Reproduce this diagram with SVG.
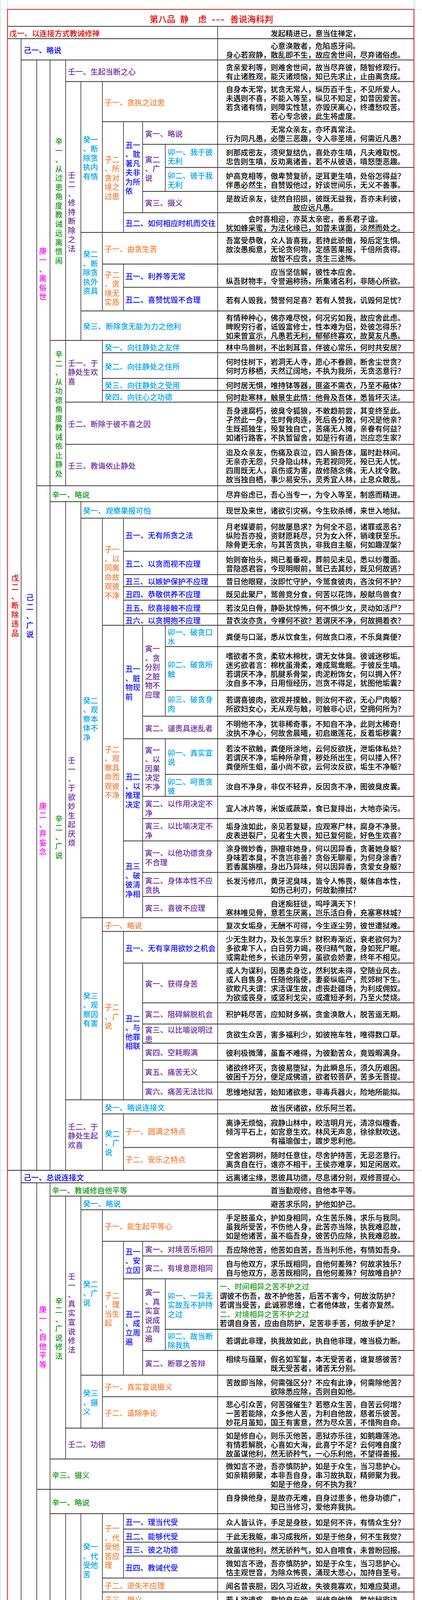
<svg xmlns="http://www.w3.org/2000/svg" width="1080" height="6539" viewBox="0 0 1080 6539">
<style>
text{font-family:"Noto Sans CJK SC","Noto Sans CJK JP",sans-serif;font-weight:500}
.t{font-size:19.1px;fill:#000;text-anchor:middle}
.tl{font-size:19.1px;fill:#000}
.l{font-size:19.3px}
.title{font-size:22px;fill:#e00000}
.wu{fill:#e00000}.ji{fill:#0000ff}.geng{fill:#ff00ff}.xin{fill:#179a17}.ren{fill:#7030a0}.gui{fill:#00a8ec}.zi{fill:#f5843c}.chou{fill:#1010ff}.yin{fill:#7030a0}.mao{fill:#00a8ec}
.g{fill:#1aa31a}.m{fill:#ff00ff}
.h{stroke:#333;stroke-width:2;fill:none}
.v{stroke:#000;stroke-width:1.3;fill:none}
.pg{stroke:#c9d2ea;stroke-width:1.2;fill:none}
</style>
<rect width="1080" height="6539" fill="#fff"/>
<g id="page">
<path class="pg" d="M1 0V6539M1062 0V6539M19.3 0V6539M1059.3 0V6539M0 24H1080M0 2997H1080M0 6527H1080M0 6538H1080"/>
</g>
<g id="connectors">
<path class="v" d="M557 67.4V6513.4M54 98.9V6513.4M94 153.6V2996M94 3028V6472.4M128 153.6V2996M128 3028V6393.7M168 153.6V1243.6M168 1284.3V2996M168 3062V3735.1M168 3874.9V6393.7M207 208.7V871.5M207 1284.3V2815.4M207 3062V3656.1M207 3874.9V6393.7M262 208.7V796.1M262 871.5V1029.4M262 1326.4V2996M262 3097.1V3656.1M262 3874.9V6472.4M316 311.5V595.1M316 676.1V796.1M316 1326.4V2349.3M316 2384.4V2815.4M316 2851.6V2996M316 3177.8V3520.4M316 3874.9V4039.8M316 4258V4533.2M316 4756V6393.7M365 311.5V544.5M365 1600.7V2349.3M365 2465.5V2815.4M365 3177.8V3520.4M365 4756V5180.6M365 5433.9V5655.5M365 5712.3V5835.1M365 5895V6393.7M423 369.4V490.1M423 1600.7V1833.5M423 1891.3V2038.7M423 3273.8V3457.2M423 4756V4964.9M423 5932.6V6393.7"/>
<path class="h" d="M19 67.4H1059M19 98.9H1059M54 153.6H1059M168 208.7H1059M262 311.5H1059M365 369.4H1059M423 428.7H1059M365 490.1H1059M316 544.5H1059M207 595.1H1059M262 676.1H1059M316 735.4H1059M207 796.1H1059M128 871.5H1059M262 903.1H1059M262 968.7H1059M262 999.5H1059M168 1029.4H1059M168 1137.6H1059M94 1243.6H1059M128 1284.3H1059M207 1326.4H1059M316 1411.2H1059M316 1470.9H1059M316 1501.7H1059M316 1536.5H1059M316 1571.2H1059M262 1600.7H1059M423 1655.3H1059M423 1767.5H1059M365 1833.5H1059M316 1891.3H1059M423 1982.6H1059M365 2038.7H1059M365 2095.5H1059M316 2152.7H1059M365 2233.6H1059M365 2295H1059M207 2349.3H1059M262 2384.4H1059M316 2465.5H1059M365 2567.2H1059M365 2621.6H1059M365 2670.7H1059M365 2714.5H1059M365 2770.2H1059M168 2815.4H1059M262 2851.6H1059M316 2937.5H1059M19 2996H1059M54 3028H1059M128 3062H1059M207 3097.1H1059M262 3177.8H1059M365 3215.3H1059M316 3273.8H1059M423 3402.9H1059M365 3457.2H1059M207 3520.4H1059M262 3575.5H1059M168 3656.1H1059M128 3735.1H1059M94 3812.8H1059M128 3874.9H1059M316 3914.5H1059M316 3947.9H1059M316 3983.6H1059M262 4039.8H1059M262 4075.6H1059M207 4110.6H1059M262 4141.5H1059M207 4222.9H1059M262 4258H1059M316 4341.5H1059M316 4370.8H1059M207 4409.4H1059M316 4451.5H1059M316 4490.8H1059M262 4533.2H1059M207 4598.1H1059M262 4660.9H1059M168 4721.6H1059M262 4756H1059M423 4821.6H1059M365 4964.9H1059M365 5075.4H1059M316 5180.6H1059M262 5223.4H1059M316 5279.9H1059M316 5338.5H1059M207 5389.4H1059M316 5433.9H1059M365 5493.1H1059M365 5549.2H1059M316 5655.5H1059M262 5712.3H1059M365 5751.3H1059M316 5835.1H1059M316 5895H1059M365 5932.6H1059M557 6121.3H1059M423 6333.1H1059M94 6393.7H1059M262 6432.9H1059M54 6472.4H1059"/>
<rect x="19.3" y="23.9" width="1040" height="6489.5" fill="none" stroke="#e00000" stroke-width="1.8"/>
</g>
<g id="title">
<text class="title" x="383" y="57">第八品</text>
<text class="title" x="461" y="57">静</text>
<text class="title" x="507" y="57">虑</text>
<text class="title" x="541" y="57" textLength="34" lengthAdjust="spacingAndGlyphs">---</text>
<text class="title" x="589" y="57">善说海科判</text>
</g>
<g id="verticals">
<g id="v-wu2"><text class="l wu" x="29" y="1486.6"><tspan x="29">戊</tspan><tspan x="29" dy="23.5">二</tspan><tspan x="29" dy="23.5">、</tspan><tspan x="29" dy="23.5">断</tspan><tspan x="29" dy="23.5">除</tspan><tspan x="29" dy="23.5">违</tspan><tspan x="29" dy="23.5">品</tspan></text></g>
<g id="v-wu3"><text class="l wu" x="29" y="4693.8"><tspan x="29">戊</tspan><tspan x="29" dy="23.5">三</tspan><tspan x="29" dy="23.5">、</tspan><tspan x="29" dy="23.5">谨</tspan><tspan x="29" dy="23.5">持</tspan><tspan x="29" dy="23.5">对</tspan><tspan x="29" dy="23.5">治</tspan></text></g>
<g id="v-ji2a"><text class="l ji" x="67" y="1537.4"><tspan x="67">己</tspan><tspan x="67" dy="23.5">二</tspan><tspan x="67" dy="23.5">、</tspan><tspan x="67" dy="23.5">广</tspan><tspan x="67" dy="23.5">说</tspan></text></g>
<g id="v-ji2b"><text class="l ji" x="67" y="4665.8"><tspan x="67">己</tspan><tspan x="67" dy="23.5">二</tspan><tspan x="67" dy="23.5">、</tspan><tspan x="67" dy="23.5">修</tspan><tspan x="67" dy="23.5">世</tspan><tspan x="67" dy="23.5">俗</tspan><tspan x="67" dy="23.5">菩</tspan><tspan x="67" dy="23.5">提</tspan><tspan x="67" dy="23.5">心</tspan></text></g>
<g id="v-geng1a"><text class="l geng" x="100" y="649.5"><tspan x="100">庚</tspan><tspan x="100" dy="23.5">一</tspan><tspan x="100" dy="23.5">、</tspan><tspan x="100" dy="23.5">离</tspan><tspan x="100" dy="23.5">俗</tspan><tspan x="100" dy="23.5">世</tspan></text></g>
<g id="v-geng2a"><text class="l geng" x="100" y="2070.7"><tspan x="100">庚</tspan><tspan x="100" dy="23.5">二</tspan><tspan x="100" dy="23.5">、</tspan><tspan x="100" dy="23.5">弃</tspan><tspan x="100" dy="23.5">妄</tspan><tspan x="100" dy="23.5">念</tspan></text></g>
<g id="v-geng1b"><text class="l geng" x="100" y="3359.5"><tspan x="100">庚</tspan><tspan x="100" dy="23.5">一</tspan><tspan x="100" dy="23.5">、</tspan><tspan x="100" dy="23.5">自</tspan><tspan x="100" dy="23.5">他</tspan><tspan x="100" dy="23.5">平</tspan><tspan x="100" dy="23.5">等</tspan></text></g>
<g id="v-geng2b"><text class="l geng" x="100" y="5042.4"><tspan x="100">庚</tspan><tspan x="100" dy="23.5">二</tspan><tspan x="100" dy="23.5">、</tspan><tspan x="100" dy="23.5">自</tspan><tspan x="100" dy="23.5">他</tspan><tspan x="100" dy="23.5">相</tspan><tspan x="100" dy="23.5">换</tspan></text></g>
<g id="v-xin1a"><text class="l xin" x="141" y="369.4"><tspan x="141">辛</tspan><tspan x="141" dy="23.5">一</tspan><tspan x="141" dy="23.5">、</tspan><tspan x="141" dy="23.5">从</tspan><tspan x="141" dy="23.5">过</tspan><tspan x="141" dy="23.5">患</tspan><tspan x="141" dy="23.5">角</tspan><tspan x="141" dy="23.5">度</tspan><tspan x="141" dy="23.5">教</tspan><tspan x="141" dy="23.5">诫</tspan><tspan x="141" dy="23.5">远</tspan><tspan x="141" dy="23.5">离</tspan><tspan x="141" dy="23.5">愦</tspan><tspan x="141" dy="23.5">闹</tspan></text></g>
<g id="v-xin2a"><text class="l xin" x="141" y="914.4"><tspan x="141">辛</tspan><tspan x="141" dy="23.5">二</tspan><tspan x="141" dy="23.5">、</tspan><tspan x="141" dy="23.5">从</tspan><tspan x="141" dy="23.5">功</tspan><tspan x="141" dy="23.5">德</tspan><tspan x="141" dy="23.5">角</tspan><tspan x="141" dy="23.5">度</tspan><tspan x="141" dy="23.5">教</tspan><tspan x="141" dy="23.5">诫</tspan><tspan x="141" dy="23.5">依</tspan><tspan x="141" dy="23.5">止</tspan><tspan x="141" dy="23.5">静</tspan><tspan x="141" dy="23.5">处</tspan></text></g>
<g id="v-xin2b"><text class="l xin" x="141" y="2102.8"><tspan x="141">辛</tspan><tspan x="141" dy="23.5">二</tspan><tspan x="141" dy="23.5">、</tspan><tspan x="141" dy="23.5">广</tspan><tspan x="141" dy="23.5">说</tspan></text></g>
<g id="v-xin2c"><text class="l xin" x="141" y="3337.7"><tspan x="141">辛</tspan><tspan x="141" dy="23.5">二</tspan><tspan x="141" dy="23.5">、</tspan><tspan x="141" dy="23.5">广</tspan><tspan x="141" dy="23.5">说</tspan><tspan x="141" dy="23.5">修</tspan><tspan x="141" dy="23.5">法</tspan></text></g>
<g id="v-xin2d"><text class="l xin" x="141" y="5096.9"><tspan x="141">辛</tspan><tspan x="141" dy="23.5">二</tspan><tspan x="141" dy="23.5">、</tspan><tspan x="141" dy="23.5">广</tspan><tspan x="141" dy="23.5">说</tspan></text></g>
<g id="v-ren2a"><text class="l ren" x="173.7" y="455.7"><tspan x="173.7">壬</tspan><tspan x="173.7" dy="23.5">二</tspan><tspan x="173.7" dy="23.5">、</tspan><tspan x="173.7" dy="23.5">修</tspan><tspan x="173.7" dy="23.5">持</tspan><tspan x="173.7" dy="23.5">断</tspan><tspan x="173.7" dy="23.5">除</tspan><tspan x="173.7" dy="23.5">之</tspan><tspan x="173.7" dy="23.5">法</tspan></text></g>
<g id="v-ren1b"><text class="l ren" x="173.7" y="1953.7"><tspan x="173.7">壬</tspan><tspan x="173.7" dy="23.5">一</tspan><tspan x="173.7" dy="23.5">、</tspan><tspan x="173.7" dy="23.5">于</tspan><tspan x="173.7" dy="23.5">欲</tspan><tspan x="173.7" dy="23.5">妙</tspan><tspan x="173.7" dy="23.5">生</tspan><tspan x="173.7" dy="23.5">起</tspan><tspan x="173.7" dy="23.5">厌</tspan><tspan x="173.7" dy="23.5">烦</tspan></text></g>
<g id="v-ren1c"><text class="l ren" x="173.7" y="3274.7"><tspan x="173.7">壬</tspan><tspan x="173.7" dy="23.5">一</tspan><tspan x="173.7" dy="23.5">、</tspan><tspan x="173.7" dy="23.5">真</tspan><tspan x="173.7" dy="23.5">实</tspan><tspan x="173.7" dy="23.5">宣</tspan><tspan x="173.7" dy="23.5">说</tspan><tspan x="173.7" dy="23.5">修</tspan><tspan x="173.7" dy="23.5">法</tspan></text></g>
<g id="v-ren1d"><text class="l ren" x="173.7" y="4237.4"><tspan x="173.7">壬</tspan><tspan x="173.7" dy="23.5">一</tspan><tspan x="173.7" dy="23.5">、</tspan><tspan x="173.7" dy="23.5">宣</tspan><tspan x="173.7" dy="23.5">说</tspan><tspan x="173.7" dy="23.5">法</tspan><tspan x="173.7" dy="23.5">相</tspan></text></g>
<g id="v-ren2d"><text class="l ren" x="173.7" y="5496.8"><tspan x="173.7">壬</tspan><tspan x="173.7" dy="23.5">二</tspan><tspan x="173.7" dy="23.5">、</tspan><tspan x="173.7" dy="23.5">宣</tspan><tspan x="173.7" dy="23.5">说</tspan><tspan x="173.7" dy="23.5">事</tspan><tspan x="173.7" dy="23.5">宜</tspan></text></g>
<g id="v-ren1e"><text class="l ren" x="173.7" y="936.6"><tspan x="173.7">壬一、于</tspan><tspan x="173.7" dy="23.5">静处生欢</tspan><tspan x="173.7" dy="23.5">喜</tspan></text></g>
<g id="v-ren2e"><text class="l ren" x="173.7" y="2891.8"><tspan x="173.7">壬二、于</tspan><tspan x="173.7" dy="23.5">静处生起</tspan><tspan x="173.7" dy="23.5">欢喜</tspan></text></g>
<g id="v-gui1a"><text class="l gui" x="212.3" y="364.5"><tspan x="212.3">癸一</tspan><tspan x="212.3" dy="23.5">、断</tspan><tspan x="212.3" dy="23.5">除贪</tspan><tspan x="212.3" dy="23.5">执内</tspan><tspan x="212.3" dy="23.5">有情</tspan></text></g>
<g id="v-gui2a"><text class="l gui" x="212.3" y="658.2"><tspan x="212.3">癸二</tspan><tspan x="212.3" dy="23.5">、断</tspan><tspan x="212.3" dy="23.5">除贪</tspan><tspan x="212.3" dy="23.5">执外</tspan><tspan x="212.3" dy="23.5">资具</tspan></text></g>
<g id="v-gui2b"><text class="l gui" x="212.3" y="1800.5"><tspan x="212.3">癸二</tspan><tspan x="212.3" dy="23.5">、观</tspan><tspan x="212.3" dy="23.5">察本</tspan><tspan x="212.3" dy="23.5">体不</tspan><tspan x="212.3" dy="23.5">净</tspan></text></g>
<g id="v-gui3b"><text class="l gui" x="212.3" y="2556.7"><tspan x="212.3">癸三</tspan><tspan x="212.3" dy="23.5">、观</tspan><tspan x="212.3" dy="23.5">察因</tspan><tspan x="212.3" dy="23.5">有害</tspan></text></g>
<g id="v-gui2c"><text class="l gui" x="212.3" y="3294.9"><tspan x="212.3">癸二</tspan><tspan x="212.3" dy="23.5">、广</tspan><tspan x="212.3" dy="23.5">说</tspan></text></g>
<g id="v-gui3c"><text class="l gui" x="212.3" y="3574.4"><tspan x="212.3">癸三</tspan><tspan x="212.3" dy="23.5">、摄</tspan><tspan x="212.3" dy="23.5">义</tspan></text></g>
<g id="v-gui1d"><text class="l gui" x="212.3" y="3967.1"><tspan x="212.3">癸一</tspan><tspan x="212.3" dy="23.5">、代</tspan><tspan x="212.3" dy="23.5">受他</tspan><tspan x="212.3" dy="23.5">苦</tspan></text></g>
<g id="v-gui2d"><text class="l gui" x="212.3" y="4141.1"><tspan x="212.3">癸二</tspan><tspan x="212.3" dy="23.5">、舍</tspan><tspan x="212.3" dy="23.5">弃自</tspan><tspan x="212.3" dy="23.5">己</tspan></text></g>
<g id="v-gui3d"><text class="l gui" x="212.3" y="4278.8"><tspan x="212.3">癸三</tspan><tspan x="212.3" dy="23.5">、自</tspan><tspan x="212.3" dy="23.5">他为</tspan><tspan x="212.3" dy="23.5">主之</tspan><tspan x="212.3" dy="23.5">功过</tspan></text></g>
<g id="v-gui4d"><text class="l gui" x="212.3" y="4454.6"><tspan x="212.3">癸四</tspan><tspan x="212.3" dy="23.5">、自</tspan><tspan x="212.3" dy="23.5">他不</tspan><tspan x="212.3" dy="23.5">相换</tspan><tspan x="212.3" dy="23.5">之过</tspan><tspan x="212.3" dy="23.5">患</tspan></text></g>
<g id="v-gui5d"><text class="l gui" x="212.3" y="4646"><tspan x="212.3">癸五</tspan><tspan x="212.3" dy="23.5">、摄</tspan><tspan x="212.3" dy="23.5">义</tspan></text></g>
<g id="v-gui1e"><text class="l gui" x="212.3" y="5041.6"><tspan x="212.3">癸一</tspan><tspan x="212.3" dy="23.5">、意</tspan><tspan x="212.3" dy="23.5">乐</tspan></text></g>
<g id="v-gui2e"><text class="l gui" x="212.3" y="5877.7"><tspan x="212.3">癸二</tspan><tspan x="212.3" dy="23.5">、行</tspan><tspan x="212.3" dy="23.5">为</tspan></text></g>
<g id="v-gui2f"><text class="l gui" x="268" y="2909.9"><tspan x="268">癸二</tspan><tspan x="268" dy="23.5">、广</tspan><tspan x="268" dy="23.5">说</tspan></text></g>
<g id="v-zi2a"><text class="l zi" x="267.4" y="415.9"><tspan x="267.4">子二</tspan><tspan x="267.4" dy="23.5">、所</tspan><tspan x="267.4" dy="23.5">贪对</tspan><tspan x="267.4" dy="23.5">境之</tspan><tspan x="267.4" dy="23.5">过患</tspan></text></g>
<g id="v-zi2b"><text class="l zi" x="267.4" y="710.5"><tspan x="267.4">子二</tspan><tspan x="267.4" dy="23.5">、贪</tspan><tspan x="267.4" dy="23.5">境无</tspan><tspan x="267.4" dy="23.5">实质</tspan></text></g>
<g id="v-zi1c"><text class="l zi" x="267.4" y="1414.4"><tspan x="267.4">子一</tspan><tspan x="267.4" dy="23.5">、以</tspan><tspan x="267.4" dy="23.5">同离</tspan><tspan x="267.4" dy="23.5">命故</tspan><tspan x="267.4" dy="23.5">观彼</tspan><tspan x="267.4" dy="23.5">不净</tspan></text></g>
<g id="v-zi2c"><text class="l zi" x="267.4" y="1925.9"><tspan x="267.4">子二</tspan><tspan x="267.4" dy="23.5">、观</tspan><tspan x="267.4" dy="23.5">察具</tspan><tspan x="267.4" dy="23.5">命而</tspan><tspan x="267.4" dy="23.5">观彼</tspan><tspan x="267.4" dy="23.5">不净</tspan></text></g>
<g id="v-zi2g"><text class="l zi" x="267.4" y="2586"><tspan x="267.4">子二</tspan><tspan x="267.4" dy="23.5">、广</tspan><tspan x="267.4" dy="23.5">说</tspan></text></g>
<g id="v-zi2i"><text class="l zi" x="267.4" y="3323.5"><tspan x="267.4">子二</tspan><tspan x="267.4" dy="23.5">、理</tspan><tspan x="267.4" dy="23.5">当生</tspan><tspan x="267.4" dy="23.5">起</tspan></text></g>
<g id="v-zi1k"><text class="l zi" x="267.4" y="3920"><tspan x="267.4">子一</tspan><tspan x="267.4" dy="23.5">、代</tspan><tspan x="267.4" dy="23.5">受他</tspan><tspan x="267.4" dy="23.5">苦应</tspan><tspan x="267.4" dy="23.5">理</tspan></text></g>
<g id="v-zi2m"><text class="l zi" x="267.4" y="4308.1"><tspan x="267.4">子二</tspan><tspan x="267.4" dy="23.5">、果</tspan><tspan x="267.4" dy="23.5">之差</tspan><tspan x="267.4" dy="23.5">别</tspan></text></g>
<g id="v-zi1n"><text class="l zi" x="267.4" y="4445.7"><tspan x="267.4">子一</tspan><tspan x="267.4" dy="23.5">、真</tspan><tspan x="267.4" dy="23.5">实宣</tspan><tspan x="267.4" dy="23.5">说</tspan></text></g>
<g id="v-zi2p"><text class="l zi" x="267.4" y="4954.4"><tspan x="267.4">子二</tspan><tspan x="267.4" dy="23.5">、广</tspan><tspan x="267.4" dy="23.5">说</tspan></text></g>
<g id="v-zi3p"><text class="l zi" x="267.4" y="5271.1"><tspan x="267.4">子三</tspan><tspan x="267.4" dy="23.5">、摄</tspan><tspan x="267.4" dy="23.5">义</tspan></text></g>
<g id="v-zi1r"><text class="l zi" x="267.4" y="5525.2"><tspan x="267.4">子一</tspan><tspan x="267.4" dy="23.5">、行</tspan><tspan x="267.4" dy="23.5">为修</tspan><tspan x="267.4" dy="23.5">法</tspan></text></g>
<g id="v-zi2s"><text class="l zi" x="267.4" y="6015.6"><tspan x="267.4">子二</tspan><tspan x="267.4" dy="23.5">、以</tspan><tspan x="267.4" dy="23.5">行为</tspan><tspan x="267.4" dy="23.5">主宰</tspan><tspan x="267.4" dy="23.5">心</tspan></text></g>
<g id="v-chou1a"><text class="l chou" x="320.5" y="378.9"><tspan x="320.5">丑一</tspan><tspan x="320.5" dy="23.5">、耽</tspan><tspan x="320.5" dy="23.5">著凡</tspan><tspan x="320.5" dy="23.5">夫非</tspan><tspan x="320.5" dy="23.5">为所</tspan><tspan x="320.5" dy="23.5">依</tspan></text></g>
<g id="v-chou1d"><text class="l chou" x="320.5" y="1720.4"><tspan x="320.5">丑一</tspan><tspan x="320.5" dy="23.5">、脏</tspan><tspan x="320.5" dy="23.5">物现</tspan><tspan x="320.5" dy="23.5">前</tspan></text></g>
<g id="v-chou2e"><text class="l chou" x="320.5" y="1996.4"><tspan x="320.5">丑二</tspan><tspan x="320.5" dy="23.5">、以</tspan><tspan x="320.5" dy="23.5">推理</tspan><tspan x="320.5" dy="23.5">决定</tspan></text></g>
<g id="v-chou3f"><text class="l chou" x="320.5" y="2225.4"><tspan x="320.5">丑三</tspan><tspan x="320.5" dy="23.5">、破</tspan><tspan x="320.5" dy="23.5">彼清</tspan><tspan x="320.5" dy="23.5">净相</tspan></text></g>
<g id="v-chou2g"><text class="l chou" x="320.5" y="2614.8"><tspan x="320.5">丑二</tspan><tspan x="320.5" dy="23.5">、与</tspan><tspan x="320.5" dy="23.5">他罪</tspan><tspan x="320.5" dy="23.5">相联</tspan></text></g>
<g id="v-chou1i"><text class="l chou" x="320.5" y="3211.9"><tspan x="320.5">丑一</tspan><tspan x="320.5" dy="23.5">、安</tspan><tspan x="320.5" dy="23.5">立因</tspan></text></g>
<g id="v-chou2i"><text class="l chou" x="320.5" y="3371.5"><tspan x="320.5">丑二</tspan><tspan x="320.5" dy="23.5">、成</tspan><tspan x="320.5" dy="23.5">立周</tspan><tspan x="320.5" dy="23.5">遍</tspan></text></g>
<g id="v-chou1p"><text class="l chou" x="320.5" y="4942.7"><tspan x="320.5">丑一</tspan><tspan x="320.5" dy="23.5">、真</tspan><tspan x="320.5" dy="23.5">实修</tspan><tspan x="320.5" dy="23.5">法</tspan></text></g>
<g id="v-chou2r"><text class="l chou" x="320.5" y="5507.3"><tspan x="320.5">丑二</tspan><tspan x="320.5" dy="23.5">、断</tspan><tspan x="320.5" dy="23.5">除珍</tspan><tspan x="320.5" dy="23.5">爱自</tspan><tspan x="320.5" dy="23.5">己</tspan></text></g>
<g id="v-chou1s"><text class="l chou" x="320.5" y="5748.1"><tspan x="320.5">丑一</tspan><tspan x="320.5" dy="23.5">、以</tspan><tspan x="320.5" dy="23.5">对治</tspan><tspan x="320.5" dy="23.5">主宰</tspan></text></g>
<g id="v-chou3t"><text class="l chou" x="320.5" y="6107"><tspan x="320.5">丑三</tspan><tspan x="320.5" dy="23.5">、精</tspan><tspan x="320.5" dy="23.5">通对</tspan><tspan x="320.5" dy="23.5">治方</tspan><tspan x="320.5" dy="23.5">便</tspan></text></g>
<g id="v-yin2a"><text class="l yin" x="371" y="415.9"><tspan x="371">寅二</tspan><tspan x="371" dy="23.5">、广</tspan><tspan x="371" dy="23.5">说</tspan></text></g>
<g id="v-yin1d"><text class="l yin" x="371" y="1668"><tspan x="371">寅一</tspan><tspan x="371" dy="23.5">、贪</tspan><tspan x="371" dy="23.5">分别</tspan><tspan x="371" dy="23.5">之脏</tspan><tspan x="371" dy="23.5">物不</tspan><tspan x="371" dy="23.5">应理</tspan></text></g>
<g id="v-yin1e"><text class="l yin" x="371" y="1927.6"><tspan x="371">寅一</tspan><tspan x="371" dy="23.5">、以</tspan><tspan x="371" dy="23.5">因果</tspan><tspan x="371" dy="23.5">决定</tspan><tspan x="371" dy="23.5">不净</tspan></text></g>
<g id="v-yin1i"><text class="l yin" x="371" y="3316.4"><tspan x="371">寅一</tspan><tspan x="371" dy="23.5">、真</tspan><tspan x="371" dy="23.5">实宣</tspan><tspan x="371" dy="23.5">说成</tspan><tspan x="371" dy="23.5">立周</tspan><tspan x="371" dy="23.5">遍</tspan></text></g>
<g id="v-yin1p"><text class="l yin" x="371" y="4846.6"><tspan x="371">寅一</tspan><tspan x="371" dy="23.5">、修</tspan><tspan x="371" dy="23.5">嫉妒</tspan></text></g>
<g id="v-yin2t"><text class="l yin" x="371" y="6149.3"><tspan x="371">寅二</tspan><tspan x="371" dy="23.5">、广</tspan><tspan x="371" dy="23.5">说</tspan></text></g>
</g>
<g id="nodes">
<g id="n01"><text class="l wu" x="24" y="92.8">戊一、以连接方式教诫修禅</text><text class="t" x="807" y="93.2">发起精进已，意当住禅定，</text></g>
<g id="n02"><text class="l ji" x="60.6" y="135.9">己一、略说</text><text class="t" y="124.8"><tspan x="807">心意涣散者，危陷惑牙间。</tspan><tspan x="807" dy="23">身心若寂静，散乱即不生，故应舍世间，尽弃诸俗虑。</tspan></text></g>
<g id="n03"><text class="l ren" x="173.7" y="190.8">壬一、生起当断之心</text><text class="t" y="179.7"><tspan x="807">贪亲爱利等，则难舍世间，故当尽弃彼，随智修观行。</tspan><tspan x="807" dy="23">有止诸胜观，能灭诸烦恼，知已先求止，止由离贪成。</tspan></text></g>
<g id="n04"><text class="l zi" x="267.4" y="269.7">子一、贪执之过患</text><text class="t" y="235.6"><tspan x="807">自身本无常，犹贪无常人，纵历百千生，不见所爱人。</tspan><tspan x="807" dy="23">未遇则不喜，不能入等至，纵见不知足，如昔因爱苦。</tspan><tspan x="807" dy="23">若贪诸有情，则障实性慧，亦毁厌离心，终遭愁叹苦。</tspan><tspan x="807" dy="23">若心专念彼，此生将虚度。</tspan></text></g>
<g id="n05"><text class="l yin" x="371" y="350.1">寅一、略说</text><text class="t" y="339"><tspan x="807">无常众亲友，亦坏真常法。</tspan><tspan x="807" dy="23">行为同凡愚，必堕三恶趣，令入非圣境，何需近凡愚？</tspan></text></g>
<g id="n06"><text class="l mao" y="396.9"><tspan x="428.7">卯一、我于彼</tspan><tspan x="428.7" dy="23.5">无利</tspan></text><text class="t" y="397.6"><tspan x="807">刹那成密友，须臾复结仇，喜处亦生嗔，凡夫难取悦。</tspan><tspan x="807" dy="23">忠告则生嗔，反劝离诸善，若不从彼语，嗔怒堕恶趣。</tspan></text></g>
<g id="n07"><text class="l mao" y="457.3"><tspan x="428.7">卯二、彼于我</tspan><tspan x="428.7" dy="23.5">无利</tspan></text><text class="t" y="457.9"><tspan x="807">妒高竞相等，傲卑赞复骄，逆耳更生嗔，处俗怎得益？</tspan><tspan x="807" dy="23">伴愚必然生，自赞毁他过，好谈世间乐，无义不善事。</tspan></text></g>
<g id="n08"><text class="l yin" x="371" y="526.9">寅三、摄义</text><text class="t" y="515.8"><tspan x="807">是故近亲友，徒然自招损，彼既无益我，吾亦未利彼，</tspan><tspan x="807" dy="23">故应远凡愚。</tspan></text></g>
<g id="n09"><text class="l chou" x="320.5" y="579.4">丑二、如何相应时机而交往</text><text class="t" y="568.3"><tspan x="807">会时喜相迎，亦莫太亲密，善系君子谊。</tspan><tspan x="807" dy="23">犹如蜂采蜜，为法化缘已，如昔未谋面，淡然而处之。</tspan></text></g>
<g id="n10"><text class="l zi" x="267.4" y="645.2">子一、由贪生苦</text><text class="t" y="622.6"><tspan x="807">吾富受恭敬，众人皆喜我，若持此骄傲，殁后定生惧。</tspan><tspan x="807" dy="23">故汝愚痴意，无论贪何物，定感苦果报，千倍所贪得。</tspan><tspan x="807" dy="23">故智不应贪，贪生三途怖。</tspan></text></g>
<g id="n11"><text class="l chou" x="320.5" y="715.4">丑一、利养等无常</text><text class="t" y="704.3"><tspan x="807">应当坚信解，彼性本应舍。</tspan><tspan x="807" dy="23">纵吾财物丰，令誉遍称扬，所集诸名利，非随心所欲。</tspan></text></g>
<g id="n12"><text class="l chou" x="320.5" y="775.4">丑二、喜赞忧毁不合理</text><text class="t" x="807" y="775.8">若有人毁我，赞誉何足喜？若有人赞我，讥毁何足忧？</text></g>
<g id="n13"><text class="l gui" x="212.3" y="843.4">癸三、断除贪无能为力之他利</text><text class="t" y="820.8"><tspan x="807">有情种种心，佛亦难尽悦，何况劣如我，故应舍此虑。</tspan><tspan x="807" dy="23">睥睨穷行者，诋毁富修士，性本难为侣，处彼怎得乐？</tspan><tspan x="807" dy="23">如来曾宣示，凡愚若无利，郁郁终寡欢，故莫友凡愚。</tspan></text></g>
<g id="n14"><text class="l gui" x="267.4" y="896.9">癸一、向往静处之友伴</text><text class="t" x="807" y="897.3">林中鸟兽树，不出刺耳音，伴彼心常乐，何时共安居？</text></g>
<g id="n15"><text class="l gui" x="267.4" y="945.5">癸二、向往静处之住所</text><text class="t" y="934.4"><tspan x="807">何时住树下，岩洞无人寺，愿心不眷顾，断舍尘世贪？</tspan><tspan x="807" dy="23">何时方移栖，天然辽阔地，不执为我所，无贪恣意行？</tspan></text></g>
<g id="n16"><text class="l gui" x="267.4" y="993.7">癸三、向往静处之受用</text><text class="t" x="807" y="994.1">何时居无惧，唯持钵等器，匪盗不需衣，乃至不蔽体？</text></g>
<g id="n17"><text class="l gui" x="267.4" y="1024.1">癸四、向往心之功德</text><text class="t" x="807" y="1024.5">何时赴寒林，触景生此情：他骨及吾体，悉皆坏灭法。</text></g>
<g id="n18"><text class="l ren" x="173.7" y="1093.1">壬二、断除于彼不喜之因</text><text class="t" y="1059"><tspan x="807">吾身速腐朽，彼臭令狐狼，不敢趋前尝，其变终至此。</tspan><tspan x="807" dy="23">孑然此一身，生时骨肉连，死后各分散，何况是他亲？</tspan><tspan x="807" dy="23">生既孤独生，殁复独自亡，苦痛无人摊，亲眷有何益？</tspan><tspan x="807" dy="23">如诸行路客，不执暂留舍，如是行有道，岂应恋生家？</tspan></text></g>
<g id="n19"><text class="l ren" x="173.7" y="1200.2">壬三、教诲依止静处</text><text class="t" y="1166.1"><tspan x="807">迨及众亲友，伤痛及哀泣，四人掮吾体，届时赴林间。</tspan><tspan x="807" dy="23">无亲亦无怨，只身隐山林，先若视同死，殁已无人忧。</tspan><tspan x="807" dy="23">四周既无人，哀伤或为害，故修随念佛，无人扰令散。</tspan><tspan x="807" dy="23">故当独自栖，事少易安乐，灵秀宜人林，止息众散乱。</tspan></text></g>
<g id="n20"><text class="l xin" x="133" y="1273.6">辛一、略说</text><text class="t" x="807" y="1274">尽弃俗虑已，吾心当专一，为令入等至，制惑而精进。</text></g>
<g id="n21"><text class="l gui" x="212.3" y="1315">癸一、观察果报可怕</text><text class="t" x="807" y="1315.4">现世及来世，诸欲引灾祸，今生砍杀缚，来世入地狱。</text></g>
<g id="n22"><text class="l chou" x="320.5" y="1378.4">丑一、无有所贪之法</text><text class="t" y="1355.8"><tspan x="807">月老媒婆前，何故屡恳求？为何全不忌，诸罪或恶名？</tspan><tspan x="807" dy="23">纵险吾亦投，资财愿耗尽，只为女入怀，销魂获至乐。</tspan><tspan x="807" dy="23">除骨更无余，与其苦贪执，非我自主躯，何如趣涅槃？</tspan></text></g>
<g id="n23"><text class="l chou" x="320.5" y="1450.7">丑二、以贪而视不应理</text><text class="t" y="1439.6"><tspan x="807">始则奋抬头，揭已羞垂视，葬前见未见，悉以纱覆面。</tspan><tspan x="807" dy="23">昔隐惑君容，今现明眼前，鹫已去其纱，既见何故逃？</tspan></text></g>
<g id="n24"><text class="l chou" x="320.5" y="1495.9">丑三、以嫉妒保护不应理</text><text class="t" x="807" y="1496.3">昔日他眼窥，汝即忙守护，今鹫食彼肉，吝汝何不护？</text></g>
<g id="n25"><text class="l chou" x="320.5" y="1528.7">丑四、恭敬供养不应理</text><text class="t" x="807" y="1529.1">既见此聚尸，鹫兽竞分食，何苦以花饰，殷献鸟兽食？</text></g>
<g id="n26"><text class="l chou" x="320.5" y="1563.5">丑五、欣喜接触不应理</text><text class="t" x="807" y="1563.9">若汝见白骨，静卧犹惊怖，何不惧少女，灵动如活尸？</text></g>
<g id="n27"><text class="l chou" x="320.5" y="1595.6">丑六、以贪拥抱不应理</text><text class="t" x="807" y="1596">昔衣汝亦贪，今裸何不欲？若谓厌不净，何故拥着衣？</text></g>
<g id="n28"><text class="l mao" y="1625.9"><tspan x="428.7">卯一、破贪口</tspan><tspan x="428.7" dy="23.5">水</tspan></text><text class="t" x="807" y="1638">粪便与口涎，悉从饮食生，何故贪口液，不乐臭粪便？</text></g>
<g id="n29"><text class="l mao" y="1709.3"><tspan x="428.7">卯二、破贪所</tspan><tspan x="428.7" dy="23.5">触</tspan></text><text class="t" y="1686.9"><tspan x="807">嗜欲者不贪，柔软木棉枕，谓无女体臭。彼诚迷秽垢。</tspan><tspan x="807" dy="23">迷劣欲者言：棉枕虽滑柔，难成鸳鸯眠。于彼反生嗔。</tspan><tspan x="807" dy="23">若谓厌不净，肌腱系骨架，肉泥粉饰女，何以拥入怀？</tspan><tspan x="807" dy="23">汝自多不净，日用恒经历，岂贪不得足，犹图他垢囊？</tspan></text></g>
<g id="n30"><text class="l mao" y="1798.4"><tspan x="428.7">卯三、破贪身</tspan><tspan x="428.7" dy="23.5">肉</tspan></text><text class="t" y="1799"><tspan x="807">若谓喜彼肉，欲观并摸触，则汝何不欲，无心尸肉躯？</tspan><tspan x="807" dy="23">所欲妇女心，无从观与触，可触非心识，空拥何所为？</tspan></text></g>
<g id="n31"><text class="l yin" x="371" y="1872">寅二、谴责具迷乱者</text><text class="t" y="1860.9"><tspan x="807">不明他不净，犹非稀奇事，不知自不净，此则太稀奇！</tspan><tspan x="807" dy="23">汝执不净心，何故舍晨曦，初启嫩莲花，反着垢秽囊？</tspan></text></g>
<g id="n32"><text class="l mao" y="1934.8"><tspan x="428.7">卯一、真实宣</tspan><tspan x="428.7" dy="23.5">说</tspan></text><text class="t" y="1924"><tspan x="807">若汝不欲触，粪便所涂地，云何反欲抚，泄垢体私处？</tspan><tspan x="807" dy="23">若谓厌不净，垢种所孕育，秽处所出生，何以搂入怀？</tspan><tspan x="807" dy="23">粪便所生蛆，虽小尚不欲，云何汝反欲，垢生不净躯？</tspan></text></g>
<g id="n33"><text class="l mao" y="2008.5"><tspan x="428.7">卯二、呵责贪</tspan><tspan x="428.7" dy="23.5">彼</tspan></text><text class="t" x="807" y="2020.7">汝自不净身，非仅不轻弃，反因贪不净，图彼臭皮囊。</text></g>
<g id="n34"><text class="l yin" y="2065"><tspan x="371">寅二、以作用决定不</tspan><tspan x="371" dy="23.5">净</tspan></text><text class="t" x="807" y="2077.1">宜人冰片等，米饭或蔬菜，食已复排出，大地亦染污。</text></g>
<g id="n35"><text class="l yin" y="2122"><tspan x="371">寅三、以比喻决定不</tspan><tspan x="371" dy="23.5">净</tspan></text><text class="t" y="2122.6"><tspan x="807">垢身浊如此，亲见若复疑，应观寒尸林，腐身不净景。</tspan><tspan x="807" dy="23">皮表迸裂尸，见者生大畏，知已复何能，好色生欢喜？</tspan></text></g>
<g id="n36"><text class="l yin" y="2191"><tspan x="371">寅一、以他功德贪身</tspan><tspan x="371" dy="23.5">不合理</tspan></text><text class="t" y="2180.2"><tspan x="807">涂身微妙香，旃檀非她身，何以因异香，贪著她身躯？</tspan><tspan x="807" dy="23">身味若本臭，不贪岂非善？贪俗无聊辈，为何身涂香？</tspan><tspan x="807" dy="23">若香属旃檀，身出乃异味，何以因异香，贪爱女身躯？</tspan></text></g>
<g id="n37"><text class="l yin" y="2262.2"><tspan x="371">寅二、身体本性不应</tspan><tspan x="371" dy="23.5">贪执</tspan></text><text class="t" y="2262.8"><tspan x="807">长发污修爪，黄牙泥臭味，皆令人怖畏，躯体自本性，</tspan><tspan x="807" dy="23">如伤己利刃，何故勤擦拭？</tspan></text></g>
<g id="n38"><text class="l yin" x="371" y="2331.8">寅三、喜彼不应理</text><text class="t" y="2320.7"><tspan x="807">自迷痴狂徒，呜呼满天下！</tspan><tspan x="807" dy="23">寒林唯见骨，意若生厌离，岂乐活白骨，充塞寒林城？</tspan></text></g>
<g id="n39"><text class="l zi" x="267.4" y="2376.5">子一、略说</text><text class="t" x="807" y="2376.9">复次女垢身，无酬不可得，今生逐尘劳，彼世遭狱难。</text></g>
<g id="n40"><text class="l chou" x="320.5" y="2434.6">丑一、无有享用欲妙之机会</text><text class="t" y="2412"><tspan x="807">少无生财力，及长怎享乐？财积寿渐近，衰老欲何为？</tspan><tspan x="807" dy="23">多欲卑下人，白日劳力竭，夜归精气散，身如死尸眠。</tspan><tspan x="807" dy="23">或需赴他乡，长途历辛劳，虽欲会娇妻，终年不相见。</tspan></text></g>
<g id="n41"><text class="l yin" x="371" y="2526">寅一、获得身苦</text><text class="t" y="2491.9"><tspan x="807">或人为谋利，因愚卖身讫，然利犹未得，空随业风去。</tspan><tspan x="807" dy="23">或人自售身，任随他指使，妻妾纵临产，荒郊树下生。</tspan><tspan x="807" dy="23">欲欺凡夫谓：求活谋生故，虑丧赴疆场，为利成佣奴。</tspan><tspan x="807" dy="23">为欲或丧身，或竖利戈尖，或遭短矛刺，乃至火焚烧。</tspan></text></g>
<g id="n42"><text class="l yin" x="371" y="2604">寅二、阻碍解脱机会</text><text class="t" x="807" y="2604.4">积护耗尽苦，应知财多祸，贪金涣散人，脱苦遥无期。</text></g>
<g id="n43"><text class="l yin" y="2644"><tspan x="371">寅三、以比喻说明过</tspan><tspan x="371" dy="23.5">患</tspan></text><text class="t" x="807" y="2656.2">贪欲生众苦，害多福利少，如彼拖车牲，唯得数口草。</text></g>
<g id="n44"><text class="l yin" x="371" y="2702.2">寅四、空耗暇满</text><text class="t" x="807" y="2702.6">彼利极微薄，虽畜不难得，为彼勤苦众，竟毁暇满身。</text></g>
<g id="n45"><text class="l yin" x="371" y="2752">寅五、痛苦无义</text><text class="t" y="2740.9"><tspan x="807">诸欲终坏灭，贪彼易堕狱，为此瞬息乐，须久历艰困。</tspan><tspan x="807" dy="23">彼困千万分，便足成佛道，欲者较菩萨，苦多无菩提。</tspan></text></g>
<g id="n46"><text class="l yin" x="371" y="2802.4">寅六、痛苦无法比拟</text><text class="t" x="807" y="2802.8">思维地狱苦，始知诸欲患，非毒兵器火，险地所能拟。</text></g>
<g id="n47"><text class="l gui" x="267.4" y="2843.1">癸一、略说连接文</text><text class="t" x="807" y="2843.5">故当厌诸欲，欣乐阿兰若。</text></g>
<g id="n48"><text class="l zi" x="320.5" y="2904.2">子一、圆满之特点</text><text class="t" y="2881.6"><tspan x="807">离诤无烦恼，寂静山林中，皎洁明月光，清凉似檀香。</tspan><tspan x="807" dy="23">倾泻平石上，如宫意生欢。林风无声息，徐徐默吹送。</tspan><tspan x="807" dy="23">有福瑜伽士，踱步思利他。</tspan></text></g>
<g id="n49"><text class="l zi" x="320.5" y="2976.4">子二、安乐之特点</text><text class="t" y="2965.3"><tspan x="807">空舍岩洞树，随时任意住，尽舍护持苦，无忌恣意行。</tspan><tspan x="807" dy="23">离贪自在行，谁亦不相干，王侯亦难享，知足闲居欢。</tspan></text></g>
<g id="n50"><text class="l ji" x="60.6" y="3021.6">己一、总说连接文</text><text class="t" x="807" y="3022">远离诸尘缘，思彼具功德，尽息诸分别，观修菩提心。</text></g>
<g id="n51"><text class="l xin" x="133" y="3054.6">辛一、教诫修自他平等</text><text class="t" x="807" y="3055">首当勤观修，自他本平等。</text></g>
<g id="n52"><text class="l gui" x="212.3" y="3089.2">癸一、略说</text><text class="t" x="807" y="3089.6">避苦求乐同，护他如护己。</text></g>
<g id="n53"><text class="l zi" x="267.4" y="3147.1">子一、能生起平等心</text><text class="t" y="3124.5"><tspan x="807">手足肢虽众，护如身相同，众生苦乐殊，求乐与我同。</tspan><tspan x="807" dy="23">虽我所受苦，不伤他人身，此苦亦当除，执我难忍故，</tspan><tspan x="807" dy="23">如是他诸苦，虽不临吾身，彼苦仍应除，执我难忍故。</tspan></text></g>
<g id="n54"><text class="l yin" x="371" y="3206.2">寅一、对境苦乐相同</text><text class="t" x="807" y="3206.6">吾应除他苦，他苦如自苦，吾当利乐他，有情如吾身。</text></g>
<g id="n55"><text class="l yin" x="371" y="3254.2">寅二、有境意愿相同</text><text class="t" y="3243.1"><tspan x="807">自与他双方，求乐既相同，自他何差殊？何故求独乐？</tspan><tspan x="807" dy="23">自与他双方，恶苦既相同，自他何差殊？何故唯自护？</tspan></text></g>
<g id="n56"><text class="l mao" y="3324.5"><tspan x="428.7">卯一、一异无</tspan><tspan x="428.7" dy="23.5">实故互不护持</tspan><tspan x="428.7" dy="23.5">之过</tspan></text><text class="tl" y="3301.4"><tspan x="562" class="g">一、时间相异之苦不护之过</tspan><tspan x="562" dy="23.5">谓彼不伤吾，故不护他苦，后苦不害今，何故汝防护？</tspan><tspan x="562" dy="23.5">若谓当受苦，此诚邪思维，亡者他体故，生者亦复然。</tspan><tspan x="562" dy="23.5" class="g">二、对境相异之苦不护之过</tspan><tspan x="562" dy="23.5">若谓自身苦，应由自防护，足苦非手苦，何故手护足？</tspan></text></g>
<g id="n57"><text class="l mao" y="3427.9"><tspan x="428.7">卯二、故当断</tspan><tspan x="428.7" dy="23.5">除我执</tspan></text><text class="t" x="807" y="3440.1">若谓此非理，执我故如此，执自他非理，唯当极力断。</text></g>
<g id="n58"><text class="l yin" x="371" y="3498.4">寅二、断罪之答辩</text><text class="t" y="3487.3"><tspan x="807">相续与蕴聚，假名如军鬘，本无受苦者，谁复感彼苦？</tspan><tspan x="807" dy="23">既无受苦者，诸苦无分别。</tspan></text></g>
<g id="n59"><text class="l zi" x="267.4" y="3557.6">子一、真实宣说摄义</text><text class="t" y="3546.5"><tspan x="807">苦故即当除，何需强区分？不应有此诤，何需除他苦？</tspan><tspan x="807" dy="23">欲除悉应除，否则自如他。</tspan></text></g>
<g id="n60"><text class="l zi" x="267.4" y="3625.4">子二、遣除争论</text><text class="t" y="3602.8"><tspan x="807">悲心引众苦，何苦强催生？若愍众生苦，自苦云何增？</tspan><tspan x="807" dy="23">一苦若能除，众多他人苦，为利自他故，慈者乐彼苦。</tspan><tspan x="807" dy="23">妙花月虽知，国王有害意，然为尽众苦，不惜殉自命。</tspan></text></g>
<g id="n61"><text class="l ren" x="173.7" y="3705.2">壬二、功德</text><text class="t" y="3682.6"><tspan x="807">如是修自心，则乐灭他苦，恶狱亦乐往，如鹅趣莲池。</tspan><tspan x="807" dy="23">有情若解脱，心喜如大海，此喜宁不足？云何唯自度？</tspan><tspan x="807" dy="23">故虽谋他利，然无骄矜气，一心乐利他，不望得善报。</tspan></text></g>
<g id="n62"><text class="l xin" x="133" y="3783.6">辛三、摄义</text><text class="t" y="3761"><tspan x="807">微如言不逊，吾亦慎防护，如是于众生，当习悲护心。</tspan><tspan x="807" dy="23">如亲精卵聚，本非吾自身，串习故执取，精卵聚为我。</tspan><tspan x="807" dy="23">如是于他身，何不执为我？</tspan></text></g>
<g id="n63"><text class="l xin" x="133" y="3853.5">辛一、略说</text><text class="t" y="3842.4"><tspan x="807">自身换他身，是故亦无难，自身过患多，他身功德广，</tspan><tspan x="807" dy="23">知已当修习，爱他弃我执。</tspan></text></g>
<g id="n64"><text class="l chou" x="320.5" y="3904.3">丑一、理当代受</text><text class="t" x="807" y="3904.7">众人皆认许，手足是身肢，如是何不许，有情众生分？</text></g>
<g id="n65"><text class="l chou" x="320.5" y="3940.8">丑二、能够代受</text><text class="t" x="807" y="3941.2">于此无我躯，串习成我所，如是于他身，何不生我觉？</text></g>
<g id="n66"><text class="l chou" x="320.5" y="3975.4">丑三、彼之功德</text><text class="t" x="807" y="3975.8">故虽谋他利，然无骄矜气，如人自喂食，未曾盼回报。</text></g>
<g id="n67"><text class="l chou" x="320.5" y="4021.3">丑四、教诫代受</text><text class="t" y="4010.2"><tspan x="807">微如言不逊，吾亦慎防护，如是于众生，当习悲护心。</tspan><tspan x="807" dy="23">怙主观世音，为除众怖畏，涌现大悲心，加持自圣号。</tspan></text></g>
<g id="n68"><text class="l zi" x="267.4" y="4067.3">子二、退失不应理</text><text class="t" x="807" y="4067.7">闻名昔丧胆，因久习近故，失彼竟寡欢，知难应莫退。</text></g>
<g id="n69"><text class="l zi" x="267.4" y="4102.7">子三、摄义</text><text class="t" x="807" y="4103.1">若人欲速疾，救护自与他，当修自他换，胜妙秘密诀。</text></g>
<g id="n70"><text class="l zi" x="267.4" y="4135.7">子一、现世生怖畏故当舍弃</text><text class="t" x="807" y="4136.1">贪著自身故，小怖亦生畏。于此生惧身，谁不似敌嗔？</text></g>
<g id="n71"><text class="l zi" x="267.4" y="4191.8">子二、后世生痛苦故当舍弃</text><text class="t" y="4169.2"><tspan x="807">千般需疗除，饥渴身疾者，捕杀鱼鸟兽，伺机劫道途。</tspan><tspan x="807" dy="23">或为求利敬，乃至杀父母，盗取三宝物，以是焚无间。</tspan><tspan x="807" dy="23">有谁聪智者，欲护供此身？谁不视如仇，谁不轻蔑彼？</tspan></text></g>
<g id="n72"><text class="l zi" x="267.4" y="4250.1">子一、相之差别</text><text class="t" x="807" y="4250.5">若施何能享？自利饿鬼道，自享何所施？利他人天法。</text></g>
<g id="n73"><text class="l chou" x="320.5" y="4309.4">丑一、分别宣说</text><text class="t" y="4286.8"><tspan x="807">为自而害他，将受地狱苦，损己以利他，一切圆满成。</tspan><tspan x="807" dy="23">欲求自高者，卑愚堕恶趣，回此举荐他，受敬上善道。</tspan><tspan x="807" dy="23">为己役他者，终遭仆役苦，劳自以利他，当封王侯爵。</tspan></text></g>
<g id="n74"><text class="l chou" x="320.5" y="4365.8">丑二、摄义</text><text class="t" x="807" y="4366.2">所有世间乐，悉从利他生，一切世间苦，咸由自利成。</text></g>
<g id="n75"><text class="l chou" x="320.5" y="4399.7">丑三、以实例说明</text><text class="t" x="807" y="4400.1">何需更繁叙？凡愚求自利，牟尼唯利他，且观此二别。</text></g>
<g id="n76"><text class="l chou" x="320.5" y="4440.1">丑一、未见之过患</text><text class="t" x="807" y="4440.5">若不以自乐，真实换他苦，非仅不成佛，生死亦无乐。</text></g>
<g id="n77"><text class="l chou" x="320.5" y="4480.8">丑二、可见之过患</text><text class="t" x="807" y="4481.2">后世且莫论，今生不为仆，雇主不予酬，难成现世利。</text></g>
<g id="n78"><text class="l chou" x="320.5" y="4521.6">丑三、摄义</text><text class="t" x="807" y="4522">利他能成乐，否则乐尽失，害他令受苦，愚者定遭殃。</text></g>
<g id="n79"><text class="l zi" x="267.4" y="4575.3">子二、教诫断除彼因</text><text class="t" y="4564.2"><tspan x="807">世间诸灾害，怖畏及众苦，悉由我执生，此魔我何用？</tspan><tspan x="807" dy="23">我执未尽舍，苦必不能除，如火未抛弃，不免受灼伤。</tspan></text></g>
<g id="n80"><text class="l zi" x="267.4" y="4639.1">子一、意乐</text><text class="t" y="4628"><tspan x="807">如为止自害，及灭他痛苦，舍自尽施他，爱他如爱己。</tspan><tspan x="807" dy="23">意汝定当知，吾已全属他，除利有情想，切莫更思余。</tspan></text></g>
<g id="n81"><text class="l zi" x="267.4" y="4700.9">子二、行为</text><text class="t" y="4689.8"><tspan x="807">不应以他眼，成办自利益，亦莫以眼等，邪恶待众生。</tspan><tspan x="807" dy="23">故当尊有情，己身所有物，见已咸取出，广利诸众生。</tspan></text></g>
<g id="n82"><text class="l zi" x="267.4" y="4748.4">子一、略说</text><text class="t" x="807" y="4748.8">易位卑等高，移自换为他，以无疑虑心，修妒竞胜慢。</text></g>
<g id="n83"><text class="l mao" y="4786.7"><tspan x="428.7">卯一、于世间</tspan><tspan x="428.7" dy="23.5">法嫉妒</tspan></text><text class="t" y="4787.3"><tspan x="807">蒙敬彼非我，吾财不如彼，受赞他非我，彼乐吾受苦。</tspan><tspan x="807" dy="23">工作吾勤苦，度日彼安逸。</tspan></text></g>
<g id="n84"><text class="l mao" y="4891.1"><tspan x="428.7">卯二、于功德</tspan><tspan x="428.7" dy="23.5">法嫉妒</tspan></text><text class="t" y="4857.3"><tspan x="807">世间盛赞彼，吾之身名裂，无才何所为？</tspan><tspan x="807" dy="23">才学众悉有，彼较某人劣，吾亦胜某人。</tspan><tspan x="807" dy="23">戒见衰退等，因惑而非我，故应悲济我，困则自取受。</tspan><tspan x="807" dy="23">然吾未蒙济，竟然反遭轻，彼虽具功德，于我有何益？</tspan><tspan x="807" dy="23">不愍愚众生，危陷恶趣门，向外夸己德，欲胜诸智者。</tspan></text></g>
<g id="n85"><text class="l yin" x="371" y="5029.8">寅二、修竞争心</text><text class="t" y="4995.7"><tspan x="807">为令自优胜，利能等我者，纵诤亦冀得，财利与恭敬。</tspan><tspan x="807" dy="23">极力称吾德，令名扬世间，克抑彼功德，不令世间闻。</tspan><tspan x="807" dy="23">复当隐吾过，受供而非他，令我获大利，受敬而非他。</tspan><tspan x="807" dy="23">吾喜观望彼，沦落久遭难，令受众嘲讽，竞相共责难。</tspan></text></g>
<g id="n86"><text class="l yin" x="371" y="5137.6">寅三、修我慢</text><text class="t" y="5103.5"><tspan x="807">据云此狂徒，欲与吾相争，财貌与慧识，种姓宁等我？</tspan><tspan x="807" dy="23">故令闻众口，齐颂吾胜德，毛竖心欢喜，浑然乐陶陶。</tspan><tspan x="807" dy="23">彼富吾夺取，若为吾从仆，唯予资生酬，其余悉霸取。</tspan><tspan x="807" dy="23">令彼乏安乐，恒常遇祸害。</tspan></text></g>
<g id="n87"><text class="l chou" x="320.5" y="5211.6">丑二、彼之原因</text><text class="t" x="807" y="5212">彼为堕生死，百般折损我。</text></g>
<g id="n88"><text class="l chou" x="320.5" y="5261.3">丑一、不修自他相换之过患</text><text class="t" x="807" y="5261.7">汝虽欲自利，然经无数劫，遍历大劬劳，执我唯增苦。</text></g>
<g id="n89"><text class="l chou" x="320.5" y="5318.8">丑二、修自他相换之功德</text><text class="t" y="5307.7"><tspan x="807">是故当尽心，勤行众生利，牟尼无欺言，奉行必获益。</tspan><tspan x="807" dy="23">若汝自往昔，素行利生事，除获正觉乐，必不逢今苦。</tspan></text></g>
<g id="n90"><text class="l chou" x="320.5" y="5373.6">丑三、是故教诫修自他相换</text><text class="t" x="807" y="5374">故汝于父母，一滴精血聚，既可执为我，于他亦当习。</text></g>
<g id="n91"><text class="l chou" x="320.5" y="5421.3">丑一、当利他</text><text class="t" x="807" y="5421.7">应为他密探，见已有何物，悉数尽盗取，以彼利众生。</text></g>
<g id="n92"><text class="l yin" y="5461.4"><tspan x="371">寅一、以意乐自我嫉</tspan><tspan x="371" dy="23.5">妒</tspan></text><text class="t" x="807" y="5473.5">我乐他不乐，我高他卑下，利己不顾人，何不反自妒？</text></g>
<g id="n93"><text class="l yin" x="371" y="5530.8">寅二、以行为代他苦</text><text class="t" x="807" y="5531.2">吾当离安乐，甘代他人苦。</text></g>
<g id="n94"><text class="l yin" x="371" y="5612">寅三、以心行置低位</text><text class="t" y="5577.9"><tspan x="807">时观念起处，细察己过失。</tspan><tspan x="807" dy="23">他虽犯大过，欣然吾顶替，自过纵微小，众前诚忏悔。</tspan><tspan x="807" dy="23">显扬他令誉，以此匿己名，役自如下仆，勤谋众人利。</tspan><tspan x="807" dy="23">此身过本多，德寡奚足夸？故当隐己德，莫令他人知。</tspan></text></g>
<g id="n95"><text class="l chou" x="320.5" y="5693.5">丑三、摄义</text><text class="t" y="5682.4"><tspan x="807">往昔为自利，所行尽害他，今为他谋利，愿害悉归我。</tspan><tspan x="807" dy="23">莫令汝此身，猛现顽强相，令如初嫁媳，羞畏极谨慎。</tspan></text></g>
<g id="n96"><text class="l yin" x="371" y="5741.4">寅一、略说</text><text class="t" x="807" y="5741.8">坚持利他行，切莫伤众生，妄动应制止，逾矩当治罚。</text></g>
<g id="n97"><text class="l yin" x="371" y="5802.8">寅二、广说</text><text class="t" y="5780.2"><tspan x="807">纵已如是诲，汝犹不行善，众过终归汝，唯当受治罚。</tspan><tspan x="807" dy="23">昔时受汝制，今日吾已觉，无论至何处，悉摧汝骄慢。</tspan><tspan x="807" dy="23">今当弃此念，尚享自权益。汝已售他人，莫哀应尽力。</tspan></text></g>
<g id="n98"><text class="l chou" x="320.5" y="5874.7">丑二、视为所断违品</text><text class="t" y="5863.6"><tspan x="807">若吾稍放逸，未施汝于众，则汝定将我，贩与诸狱卒。</tspan><tspan x="807" dy="23">如是汝屡屡，弃我令久苦，今忆宿仇怨，摧汝自利心。</tspan></text></g>
<g id="n99"><text class="l yin" x="371" y="5923.4">寅一、略说</text><text class="t" x="807" y="5923.8">若汝欲自喜，不应自爱执，若汝欲自护，则当常护他。</text></g>
<g id="n100"><text class="l mao" y="6130.7"><tspan x="428.7">卯一、断除贪</tspan><tspan x="428.7" dy="23.5">身</tspan></text><text class="tl" y="5954.7"><tspan x="562" class="g">辰一、贪执之过患</tspan><tspan x="562" dy="23.5" class="m">巳一、真实宣说</tspan><tspan x="562" dy="23.5">汝愈献殷勤，护此不净身，彼愈趋退堕，衰朽极脆弱。</tspan><tspan x="562" dy="23.5">身弱欲爱增，大地一切物，尚且不餍足，谁复惬彼欲？</tspan><tspan x="562" dy="23.5">逐欲未得足，生恼复失意。</tspan><tspan x="562" dy="23.5" class="m">巳二、旁述知足之功德</tspan><tspan x="562" dy="23.5">若人无所求，彼福无穷尽，乐长身贪故，莫令有机趁，</tspan><tspan x="562" dy="23.5">不执悦意物，厥为真妙财。</tspan></text><text class="tl" y="6143.2"><tspan x="562" class="g">辰二、贪执不合理</tspan><tspan x="562" dy="23.5" class="m">巳一、由于低劣故贪不合理</tspan><tspan x="562" dy="23.5">可怖不净身，不动待他牵，火化终成灰，何故执为我？</tspan><tspan x="562" dy="23.5">无论生与死，朽身何所为？岂异粪等物？怎不除我慢？</tspan><tspan x="562" dy="23.5">奉承此身故，无义集诸苦，于此似树身，何劳贪与嗔？</tspan><tspan x="562" dy="23.5" class="m">巳二、由于不知利害故贪不合理</tspan><tspan x="562" dy="23.5">细心极爱护，或弃鹫兽食，身既无贪嗔，何苦爱此身？</tspan><tspan x="562" dy="23.5">何毁引身嗔？何赞令身喜？身既无所知，殷勤何所为？</tspan><tspan x="562" dy="23.5">若人喜我身，则彼为吾友，众皆爱己身，何不爱众生？</tspan></text></g>
<g id="n101"><text class="l mao" y="6361.3"><tspan x="428.7">卯二、善用此</tspan><tspan x="428.7" dy="23.5">身之方法</tspan></text><text class="t" x="807" y="6373.4">故应离贪执，为众舍己身，此身虽多患，善用如工具。</text></g>
<g id="n102"><text class="l geng" x="100" y="6442.7">庚三、共同之事宜</text></g>
<g id="n103"><text class="l xin" x="267.4" y="6422.9">辛一、遣除教诫之障</text><text class="t" x="807" y="6423.3">愚行足堪厌，今当随圣贤，忆教不放逸，奋退昏与眠。</text></g>
<g id="n104"><text class="l xin" x="267.4" y="6462.3">辛二、精勤对治</text><text class="t" x="807" y="6462.7">如佛大悲子，安忍所当行，若不恒勤修，何日得出苦？</text></g>
<g id="n105"><text class="l ji" x="60.6" y="6502.5">己三、修胜义菩提心</text><text class="t" x="807" y="6502.9">为除诸障故，回心避邪途，并于正所缘，恒常修三昧。</text></g>
</g>
</svg>
